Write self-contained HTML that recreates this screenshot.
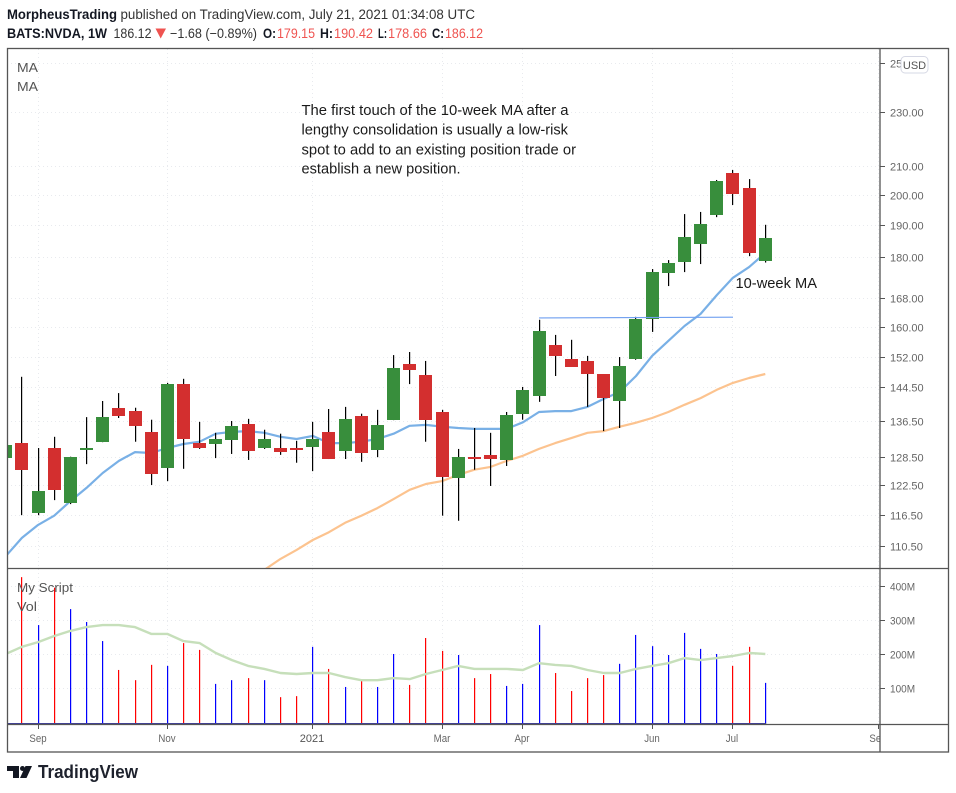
<!DOCTYPE html>
<html>
<head>
<meta charset="utf-8">
<title>NVDA weekly chart</title>
<style>
html,body{margin:0;padding:0;background:#fff;width:956px;height:793px;overflow:hidden}
svg{display:block;font-family:"Liberation Sans",sans-serif}
</style>
</head>
<body>
<svg id="chart" xmlns="http://www.w3.org/2000/svg" width="956" height="793" viewBox="0 0 956 793">
  <defs>
    <clipPath id="price-clip"><rect x="7" y="49" width="873" height="519"/></clipPath>
    <clipPath id="vol-clip"><rect x="7" y="569" width="873" height="155"/></clipPath>
    <clipPath id="time-clip"><rect x="7" y="725" width="873" height="27"/></clipPath>
  </defs>
  <rect x="0" y="0" width="956" height="793" fill="#fff"/>

  <g id="grid"></g>
  <g id="price-marks" clip-path="url(#price-clip)"></g>
  <g id="vol-marks" clip-path="url(#vol-clip)"></g>
  <g id="axes"></g>

  <g fill="none" stroke="#555" stroke-width="1.3">
    <rect x="7.5" y="48.5" width="941" height="703.5"/>
    <line x1="7" y1="568.5" x2="948" y2="568.5"/>
    <line x1="7" y1="724.5" x2="948" y2="724.5"/>
    <line x1="880" y1="48" x2="880" y2="752"/>
  </g>

  <g font-size="13.5" fill="#131722">
    <text x="7" y="19" font-weight="bold" textLength="110" lengthAdjust="spacingAndGlyphs">MorpheusTrading</text>
    <text x="120.5" y="19" fill="#333" textLength="354.5" lengthAdjust="spacingAndGlyphs">published on TradingView.com, July 21, 2021 01:34:08 UTC</text>
  </g>
  <g font-size="13.5" fill="#131722">
    <text x="7" y="38" font-weight="bold" textLength="100" lengthAdjust="spacingAndGlyphs">BATS:NVDA, 1W</text>
    <text x="113.5" y="38" fill="#333" textLength="38" lengthAdjust="spacingAndGlyphs">186.12</text>
    <polygon points="155.5,28.5 166,28.5 160.7,38.5" fill="#ef5350"/>
    <text x="170" y="38" fill="#333" textLength="87" lengthAdjust="spacingAndGlyphs">−1.68 (−0.89%)</text>
    <text x="263" y="38" font-weight="bold" textLength="13" lengthAdjust="spacingAndGlyphs">O:</text>
    <text x="277" y="38" fill="#ef5350" textLength="38" lengthAdjust="spacingAndGlyphs">179.15</text>
    <text x="320" y="38" font-weight="bold" textLength="13" lengthAdjust="spacingAndGlyphs">H:</text>
    <text x="334" y="38" fill="#ef5350" textLength="39" lengthAdjust="spacingAndGlyphs">190.42</text>
    <text x="378" y="38" font-weight="bold" textLength="9" lengthAdjust="spacingAndGlyphs">L:</text>
    <text x="388" y="38" fill="#ef5350" textLength="39" lengthAdjust="spacingAndGlyphs">178.66</text>
    <text x="432" y="38" font-weight="bold" textLength="12" lengthAdjust="spacingAndGlyphs">C:</text>
    <text x="445" y="38" fill="#ef5350" textLength="38" lengthAdjust="spacingAndGlyphs">186.12</text>
  </g>

  <g font-size="13" fill="#555">
    <text x="17" y="72" textLength="21" lengthAdjust="spacingAndGlyphs">MA</text>
    <text x="17" y="91" textLength="21" lengthAdjust="spacingAndGlyphs">MA</text>
    <text x="17" y="592" textLength="56" lengthAdjust="spacingAndGlyphs">My Script</text>
    <text x="17" y="611" textLength="20" lengthAdjust="spacingAndGlyphs">Vol</text>
  </g>

  <g font-size="15" fill="#1a1a1a">
    <text x="301.5" y="115" textLength="267" lengthAdjust="spacingAndGlyphs">The first touch of the 10-week MA after a</text>
    <text x="301.5" y="134.5" textLength="266.5" lengthAdjust="spacingAndGlyphs">lengthy consolidation is usually a low-risk</text>
    <text x="301.5" y="154.5" textLength="274.5" lengthAdjust="spacingAndGlyphs">spot to add to an existing position trade or</text>
    <text x="301.5" y="173.5" textLength="159" lengthAdjust="spacingAndGlyphs">establish a new position.</text>
    <text x="735.5" y="288" textLength="81.5" lengthAdjust="spacingAndGlyphs">10-week MA</text>
  </g>

  <g>
    <rect x="901" y="56.5" width="27" height="16.5" rx="4" fill="#fff" stroke="#d6d8e4"/>
    <text x="914.5" y="69" font-size="11" fill="#555" text-anchor="middle">USD</text>
  </g>

  <g>
    <path d="M7 766H19V778H13V771H7Z" fill="#131722"/>
    <circle cx="22.5" cy="768.5" r="2.5" fill="#131722"/>
    <path d="M25.5 766H32L26.5 778H20Z" fill="#131722"/>
    <text x="38" y="778" font-size="18" font-weight="bold" fill="#1e222d" textLength="100" lengthAdjust="spacingAndGlyphs">TradingView</text>
  </g>
</svg>

<script>
// Bar indices run from -1 (partial bar at left edge) to 46.
var firstIndex = -1;
var opens  = [128.4,131.7,117.0,130.6,119.0,130.2,132.0,139.8,139.0,134.2,126.3,145.5,131.7,131.5,132.4,136.0,130.6,130.6,130.6,130.8,134.2,130.0,137.9,130.2,137.0,150.5,147.8,138.8,124.2,128.6,129.1,128.0,138.4,142.6,155.5,151.8,151.3,148.0,141.4,151.8,162.4,175.5,178.8,184.4,193.6,207.8,202.6,179.15];
var highs  = [131.8,147.3,130.6,133.1,128.7,137.6,141.4,143.3,139.8,137.0,145.8,146.8,136.5,134.0,136.7,137.2,134.7,133.8,132.2,136.5,139.5,140.0,138.4,139.3,152.8,153.6,151.3,139.3,130.4,135.1,134.0,138.8,144.8,162.2,158.1,156.8,152.6,148.0,152.3,163.0,176.7,179.4,193.9,194.6,205.4,208.9,205.7,190.42];
var lows   = [127.4,116.6,116.6,119.6,118.8,127.1,131.9,137.4,132.0,122.7,123.5,126.1,130.4,128.4,129.3,128.0,130.4,129.1,127.4,125.6,128.2,128.2,127.6,128.6,136.9,145.5,132.0,116.5,115.5,125.9,122.5,126.7,137.0,141.2,147.5,149.8,140.0,134.4,135.1,151.6,158.9,171.7,175.8,178.2,192.9,196.9,180.6,178.66];
var closes = [131.3,125.9,121.5,121.7,128.6,130.6,137.6,137.9,135.6,125.0,145.5,132.6,130.6,132.6,135.6,130.0,132.6,129.7,130.2,132.6,128.2,137.2,129.5,135.8,149.5,149.0,137.0,124.4,128.6,128.2,128.2,138.1,144.1,159.2,152.6,149.8,148.0,142.1,150.0,162.4,175.8,178.5,186.5,190.7,205.0,200.6,181.6,186.12];

var ma10 = [108.8,112.2,114.7,116.5,119.4,122.1,125.2,127.8,129.7,129.5,130.6,131.5,132.0,133.8,134.2,134.4,134.0,133.1,132.6,133.3,131.7,131.7,132.0,132.6,133.8,135.6,135.8,135.4,135.1,134.9,134.9,134.9,136.4,138.8,139.0,139.0,140.0,141.9,143.6,147.5,152.6,156.5,160.5,163.8,169.1,174.1,177.3,181.6];

var ma50Start = 15;
var ma50 = [106.3,108.3,109.95,111.8,113.3,115.1,116.5,118.0,119.8,121.7,122.9,123.5,124.8,125.9,126.5,127.8,128.9,130.4,131.7,132.8,134.0,134.4,135.4,136.3,137.4,138.8,140.5,142.1,144.1,145.8,147.0,148.0];

var volumes = [null,429,288,398,335,297,241,156,126,171,168,235,215,115,126,132,126,76,79,224,159,106,129,106,203,112,250,212,200,132,144,109,115,288,147,94,132,141,174,259,226,200,265,218,203,168,224,118];
var volMA = [203,224,238,256,271,282,288,288,282,262,262,241,235,206,185,168,159,147,144,147,147,135,126,126,132,129,144,156,168,159,159,159,156,176,171,168,156,147,147,159,168,176,191,185,191,197,206,203];

var trendBars = [32,44];
var trendPrices = [162.7,162.9];

var priceTicks = [250,230,210,200,190,180,168,160,152,144.5,136.5,128.5,122.5,116.5,110.5];
var volTicks = [400,300,200,100];
var timeTickBars = [1,9,18,26,31,39,44,53];
var timeTickLabels = ["Sep","Nov","2021","Mar","Apr","Jun","Jul","Sep"];

var NS = "http://www.w3.org/2000/svg";
function xOf(i){ return 21.9 + 16.16 * i; }
function barLeft(i){ return Math.floor(xOf(i) - 6); }
function yPrice(p){ return 113 + 592 * Math.log(230 / p); }
function yVol(v){ return 723 - 0.34 * v; }
function make(tag, attrs, parent){
  var el = document.createElementNS(NS, tag);
  for (var k in attrs) el.setAttribute(k, attrs[k]);
  parent.appendChild(el);
  return el;
}
function squeeze(el, factor){
  el.setAttribute("textLength", (el.getComputedTextLength() * factor).toFixed(1));
  el.setAttribute("lengthAdjust", "spacingAndGlyphs");
}
function linePath(values, startIndex, yFn){
  var d = "";
  for (var n = 0; n < values.length; n++){
    d += (n ? "L" : "M") + xOf(startIndex + n).toFixed(1) + " " + yFn(values[n]).toFixed(1);
  }
  return d;
}

var grid = document.getElementById("grid");
var priceG = document.getElementById("price-marks");
var volG = document.getElementById("vol-marks");
var axes = document.getElementById("axes");
var gridStyle = {stroke:"#e8eaee", "stroke-width":1, "stroke-dasharray":"1 3", fill:"none"};

priceTicks.forEach(function(p){
  var y = Math.round(yPrice(p)) - 0.5;
  var g = make("line", Object.assign({x1:7, x2:880, y1:y, y2:y}, gridStyle), grid);
  
  
  var t = make("line", {x1:880, x2:885, y1:y, y2:y, stroke:"#555", "stroke-width":1}, axes);
  
  
  var l = make("text", {x:890, y:y + 4, "font-size":11, fill:"#666"}, axes);
  l.textContent = p.toFixed(2);
  
  
});

volTicks.forEach(function(v){
  var y = Math.round(yVol(v)) - 0.5;
  var g = make("line", Object.assign({x1:7, x2:880, y1:y, y2:y}, gridStyle), grid);
  
  
  var t = make("line", {x1:880, x2:885, y1:y, y2:y, stroke:"#555", "stroke-width":1}, axes);
  
  
  var l = make("text", {x:890, y:y + 4, "font-size":11, fill:"#666"}, axes);
  l.textContent = v + "M";
  
  
  squeeze(l, 0.91);
});

var timeLabelGroup = make("g", {"clip-path":"url(#time-clip)"}, axes);
timeTickBars.forEach(function(b, n){
  var x = barLeft(b) + 6.5;
  if (x < 880){
    var g1 = make("line", Object.assign({x1:x, x2:x, y1:49, y2:568}, gridStyle), grid);
    
    
    var g2 = make("line", Object.assign({x1:x, x2:x, y1:569, y2:724}, gridStyle), grid);
    
    
  }
  var t = make("line", {x1:x, x2:x, y1:724, y2:729, stroke:"#555", "stroke-width":1}, axes);
  
  
  var isYear = timeTickLabels[n] === "2021";
  var l = make("text", {x:x - 0.5, y:742, "font-size":11, "text-anchor":"middle", fill:isYear ? "#555" : "#666"}, timeLabelGroup);
  l.textContent = timeTickLabels[n];
  
  
  if (!isYear) squeeze(l, 0.88);
});

var ma50Line = make("path", {d:linePath(ma50, ma50Start, yPrice), fill:"none", stroke:"#fcc38f", "stroke-width":2.2, "stroke-linejoin":"round"}, priceG);


var ma10Line = make("path", {d:linePath(ma10, firstIndex, yPrice), fill:"none", stroke:"#79b0e6", "stroke-width":2.2, "stroke-linejoin":"round"}, priceG);



opens.forEach(function(o, n){
  var i = firstIndex + n;
  var left = barLeft(i);
  var c = closes[n];
  var up = c >= o;
  var w = make("rect", {x:left + 6, y:yPrice(highs[n]), width:1.2, height:yPrice(lows[n]) - yPrice(highs[n]), fill:"#000"}, priceG);
  
  
  var top = Math.round(yPrice(Math.max(o, c)));
  var bot = Math.round(yPrice(Math.min(o, c)));
  var b = make("rect", {x:left, y:top, width:13, height:Math.max(bot - top, 1.5), fill:up ? "#388e3c" : "#d32f2f"}, priceG);
  
  
});

var trend = make("line", {x1:xOf(trendBars[0]), y1:yPrice(trendPrices[0]), x2:xOf(trendBars[1]), y2:yPrice(trendPrices[1]), stroke:"#6f9ff0", "stroke-width":1.1}, priceG);



volumes.forEach(function(v, n){
  if (v === null) return;
  var x = barLeft(firstIndex + n) + 6;
  var up = closes[n] >= opens[n];
  var b = make("rect", {x:x, y:yVol(v), width:1.2, height:yVol(0) - yVol(v), fill:up ? "#0000ff" : "#ff0000"}, volG);
  
  
});
var base = make("rect", {x:7, y:yVol(0), width:xOf(46) - 6, height:1.5, fill:"#3f3f9a"}, volG);


var vma = make("path", {d:linePath(volMA, firstIndex, yVol), fill:"none", stroke:"#c6dfba", "stroke-width":2.4, "stroke-linejoin":"round"}, volG);


</script>
</body>
</html>
